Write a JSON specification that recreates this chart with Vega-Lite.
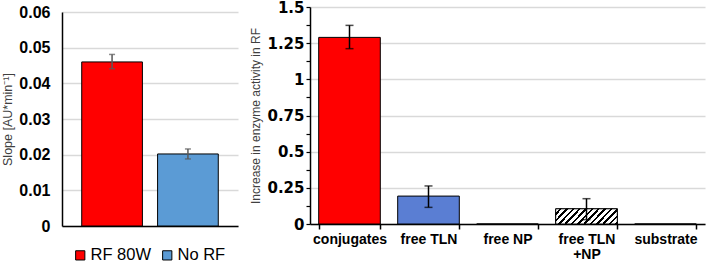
{
  "$schema": "https://vega.github.io/schema/vega-lite/v6.json",
  "padding": {"left": 1, "top": 0, "right": 2, "bottom": 0},
  "spacing": 11,
  "config": {
    "font": "Liberation Sans",
    "view": {"stroke": null},
    "axis": {"gridColor": "#D9D9D9", "gridWidth": 1.3, "domainColor": "black", "domainWidth": 1.5, "tickColor": "black", "labelColor": "black", "labelOverlap": false},
    "axisY": {"labelOverlap": false}
  },
  "hconcat": [
    {
      "vconcat": [
        {
          "width": 176,
          "height": 1,
          "data": {"values": []},
          "mark": {"type": "point", "opacity": 0}
        },
        {
          "width": 176,
          "height": 214,
          "data": {"values": [
            {"cond": "RF 80W", "slope": 0.046, "lo": 0.0441, "hi": 0.0481},
            {"cond": "No RF", "slope": 0.0202, "lo": 0.0188, "hi": 0.0216}
          ]},
          "encoding": {
            "x": {"field": "cond", "type": "nominal", "sort": null,
              "scale": {"paddingInner": 0.2, "paddingOuter": 0.26},
              "axis": {"labels": false, "ticks": false, "title": null, "grid": false}}
          },
          "layer": [
            {
              "mark": {"type": "bar", "stroke": "black", "strokeWidth": 1},
              "encoding": {
                "y": {"field": "slope", "type": "quantitative", "title": "Slope [AU*min⁻¹]",
                  "scale": {"domain": [0, 0.06], "nice": false},
                  "axis": {"values": [0, 0.01, 0.02, 0.03, 0.04, 0.05, 0.06], "labelExpr": "format(datum.value, '~g')",
                    "labelOverlap": false, "labelFontSize": 16, "labelFontWeight": "bold", "ticks": false, "labelPadding": 12,
                    "titleFontSize": 12.5, "titleFontWeight": "normal", "titleColor": "#404040", "titlePadding": 4}},
                "color": {"field": "cond", "type": "nominal", "sort": null,
                  "scale": {"domain": ["RF 80W", "No RF"], "range": ["#FF0000", "#5B9BD5"]},
                  "legend": {"orient": "none", "legendX": 10, "legendY": 240, "direction": "horizontal", "title": null,
                    "symbolType": "square", "symbolSize": 85, "symbolStrokeColor": "black", "symbolStrokeWidth": 1,
                    "symbolOpacity": 1, "labelFontSize": 16.5, "labelColor": "black", "labelOffset": 2, "columnPadding": 7}}
              }
            },
            {
              "mark": {"type": "rule", "color": "#595959", "strokeWidth": 1.5},
              "encoding": {"y": {"field": "lo", "type": "quantitative", "title": "Slope [AU*min⁻¹]",
                  "axis": {"values": [0, 0.01, 0.02, 0.03, 0.04, 0.05, 0.06], "labelExpr": "format(datum.value, '~g')",
                    "labelOverlap": false, "labelFontSize": 16, "labelFontWeight": "bold", "ticks": false, "labelPadding": 12,
                    "titleFontSize": 12.5, "titleFontWeight": "normal", "titleColor": "#404040", "titlePadding": 4}}, "y2": {"field": "hi"}}
            },
            {
              "mark": {"type": "tick", "color": "#595959", "size": 6, "thickness": 1.5, "orient": "horizontal"},
              "encoding": {"y": {"field": "lo", "type": "quantitative", "title": "Slope [AU*min⁻¹]",
                  "axis": {"values": [0, 0.01, 0.02, 0.03, 0.04, 0.05, 0.06], "labelExpr": "format(datum.value, '~g')",
                    "labelOverlap": false, "labelFontSize": 16, "labelFontWeight": "bold", "ticks": false, "labelPadding": 12,
                    "titleFontSize": 12.5, "titleFontWeight": "normal", "titleColor": "#404040", "titlePadding": 4}}}
            },
            {
              "mark": {"type": "tick", "color": "#595959", "size": 6, "thickness": 1.5, "orient": "horizontal"},
              "encoding": {"y": {"field": "hi", "type": "quantitative", "title": "Slope [AU*min⁻¹]",
                  "axis": {"values": [0, 0.01, 0.02, 0.03, 0.04, 0.05, 0.06], "labelExpr": "format(datum.value, '~g')",
                    "labelOverlap": false, "labelFontSize": 16, "labelFontWeight": "bold", "ticks": false, "labelPadding": 12,
                    "titleFontSize": 12.5, "titleFontWeight": "normal", "titleColor": "#404040", "titlePadding": 4}}}
            }
          ]
        }
      ],
      "spacing": 4,
      "bounds": "flush"
    },
    {
      "width": 395,
      "height": 217,
      "data": {"values": [
        {"cat": "conjugates", "val": 1.29, "lo": 1.212, "hi": 1.373},
        {"cat": "free TLN", "val": 0.193, "lo": 0.115, "hi": 0.263},
        {"cat": "free NP", "val": 0, "lo": null, "hi": null},
        {"cat": "free TLN +NP", "val": 0.105, "lo": 0.03, "hi": 0.175},
        {"cat": "substrate", "val": 0, "lo": null, "hi": null}
      ]},
      "encoding": {
        "x": {"field": "cat", "type": "nominal", "sort": null,
          "scale": {"paddingInner": 0.22, "paddingOuter": 0.11},
          "axis": {"title": null, "grid": false, "labelAngle": 0, "tickBand": "extent", "tickSize": 5, "tickWidth": 1.5,
            "labelFontSize": 14, "labelFontWeight": "bold", "labelPadding": 3, "labelLineHeight": 15.5,
            "labelExpr": "datum.value == 'free TLN +NP' ? ['free TLN', '+NP'] : datum.value"}}
      },
      "layer": [
        {
          "mark": {"type": "bar", "stroke": "black", "strokeWidth": 1},
          "encoding": {
            "y": {"field": "val", "type": "quantitative", "title": "Increase in enzyme activity in RF",
              "scale": {"domain": [0, 1.5], "nice": false},
              "axis": {"values": [0, 0.125, 0.25, 0.375, 0.5, 0.625, 0.75, 0.875, 1, 1.125, 1.25, 1.375, 1.5],
                "labelExpr": "(datum.value * 8) % 2 == 0 ? format(datum.value, '~g') : ''",
                "labelOverlap": false,
                "gridOpacity": {"condition": {"test": "(datum.value * 8) % 2 != 0", "value": 0}, "value": 1},
                "labelFont": "DejaVu Sans", "labelFontSize": 15, "labelFontWeight": "bold", "tickSize": 4, "tickWidth": 1.2, "labelPadding": 2,
                "titleFontSize": 12, "titleFontWeight": "normal", "titleColor": "#404040", "titlePadding": 4}},
            "fill": {"field": "cat", "type": "nominal", "sort": null,
              "scale": {"domain": ["conjugates", "free TLN", "free NP", "free TLN +NP", "substrate"],
                "range": ["#FF0000", "#5A7ED3", "white", "white", "white"]},
              "legend": null}
          }
        },
        {
          "transform": [{"filter": "datum.cat == 'free TLN +NP'"}],
          "mark": {"type": "bar", "stroke": "black", "strokeWidth": 1,
            "fill": {"gradient": "linear", "x1": 0, "y1": 0, "x2": 1.17, "y2": 0.275, "stops": [
              {"offset": 0, "color": "white"}, {"offset": 0.05, "color": "white"}, {"offset": 0.05, "color": "black"}, {"offset": 0.0833, "color": "black"},
              {"offset": 0.0833, "color": "white"}, {"offset": 0.1333, "color": "white"}, {"offset": 0.1333, "color": "black"}, {"offset": 0.1667, "color": "black"},
              {"offset": 0.1667, "color": "white"}, {"offset": 0.2167, "color": "white"}, {"offset": 0.2167, "color": "black"}, {"offset": 0.25, "color": "black"},
              {"offset": 0.25, "color": "white"}, {"offset": 0.3, "color": "white"}, {"offset": 0.3, "color": "black"}, {"offset": 0.3333, "color": "black"},
              {"offset": 0.3333, "color": "white"}, {"offset": 0.3833, "color": "white"}, {"offset": 0.3833, "color": "black"}, {"offset": 0.4167, "color": "black"},
              {"offset": 0.4167, "color": "white"}, {"offset": 0.4667, "color": "white"}, {"offset": 0.4667, "color": "black"}, {"offset": 0.5, "color": "black"},
              {"offset": 0.5, "color": "white"}, {"offset": 0.55, "color": "white"}, {"offset": 0.55, "color": "black"}, {"offset": 0.5833, "color": "black"},
              {"offset": 0.5833, "color": "white"}, {"offset": 0.6333, "color": "white"}, {"offset": 0.6333, "color": "black"}, {"offset": 0.6667, "color": "black"},
              {"offset": 0.6667, "color": "white"}, {"offset": 0.7167, "color": "white"}, {"offset": 0.7167, "color": "black"}, {"offset": 0.75, "color": "black"},
              {"offset": 0.75, "color": "white"}, {"offset": 0.8, "color": "white"}, {"offset": 0.8, "color": "black"}, {"offset": 0.8333, "color": "black"},
              {"offset": 0.8333, "color": "white"}, {"offset": 0.8833, "color": "white"}, {"offset": 0.8833, "color": "black"}, {"offset": 0.9167, "color": "black"},
              {"offset": 0.9167, "color": "white"}, {"offset": 0.9667, "color": "white"}, {"offset": 0.9667, "color": "black"}, {"offset": 1, "color": "black"}
            ]}},
          "encoding": {"y": {"field": "val", "type": "quantitative", "title": "Increase in enzyme activity in RF",
              "axis": {"values": [0, 0.125, 0.25, 0.375, 0.5, 0.625, 0.75, 0.875, 1, 1.125, 1.25, 1.375, 1.5],
                "labelExpr": "(datum.value * 8) % 2 == 0 ? format(datum.value, '~g') : ''",
                "labelOverlap": false,
                "gridOpacity": {"condition": {"test": "(datum.value * 8) % 2 != 0", "value": 0}, "value": 1},
                "labelFont": "DejaVu Sans", "labelFontSize": 15, "labelFontWeight": "bold", "tickSize": 4, "tickWidth": 1.2, "labelPadding": 2,
                "titleFontSize": 12, "titleFontWeight": "normal", "titleColor": "#404040", "titlePadding": 4}}}
        },
        {
          "mark": {"type": "rule", "color": "black", "strokeWidth": 1.5},
          "encoding": {"y": {"field": "lo", "type": "quantitative", "title": "Increase in enzyme activity in RF",
              "axis": {"values": [0, 0.125, 0.25, 0.375, 0.5, 0.625, 0.75, 0.875, 1, 1.125, 1.25, 1.375, 1.5],
                "labelExpr": "(datum.value * 8) % 2 == 0 ? format(datum.value, '~g') : ''",
                "labelOverlap": false,
                "gridOpacity": {"condition": {"test": "(datum.value * 8) % 2 != 0", "value": 0}, "value": 1},
                "labelFont": "DejaVu Sans", "labelFontSize": 15, "labelFontWeight": "bold", "tickSize": 4, "tickWidth": 1.2, "labelPadding": 2,
                "titleFontSize": 12, "titleFontWeight": "normal", "titleColor": "#404040", "titlePadding": 4}}, "y2": {"field": "hi"}}
        },
        {
          "mark": {"type": "tick", "color": "black", "size": 8, "thickness": 1.5, "orient": "horizontal"},
          "encoding": {"y": {"field": "lo", "type": "quantitative", "title": "Increase in enzyme activity in RF",
              "axis": {"values": [0, 0.125, 0.25, 0.375, 0.5, 0.625, 0.75, 0.875, 1, 1.125, 1.25, 1.375, 1.5],
                "labelExpr": "(datum.value * 8) % 2 == 0 ? format(datum.value, '~g') : ''",
                "labelOverlap": false,
                "gridOpacity": {"condition": {"test": "(datum.value * 8) % 2 != 0", "value": 0}, "value": 1},
                "labelFont": "DejaVu Sans", "labelFontSize": 15, "labelFontWeight": "bold", "tickSize": 4, "tickWidth": 1.2, "labelPadding": 2,
                "titleFontSize": 12, "titleFontWeight": "normal", "titleColor": "#404040", "titlePadding": 4}}}
        },
        {
          "mark": {"type": "tick", "color": "black", "size": 8, "thickness": 1.5, "orient": "horizontal"},
          "encoding": {"y": {"field": "hi", "type": "quantitative", "title": "Increase in enzyme activity in RF",
              "axis": {"values": [0, 0.125, 0.25, 0.375, 0.5, 0.625, 0.75, 0.875, 1, 1.125, 1.25, 1.375, 1.5],
                "labelExpr": "(datum.value * 8) % 2 == 0 ? format(datum.value, '~g') : ''",
                "labelOverlap": false,
                "gridOpacity": {"condition": {"test": "(datum.value * 8) % 2 != 0", "value": 0}, "value": 1},
                "labelFont": "DejaVu Sans", "labelFontSize": 15, "labelFontWeight": "bold", "tickSize": 4, "tickWidth": 1.2, "labelPadding": 2,
                "titleFontSize": 12, "titleFontWeight": "normal", "titleColor": "#404040", "titlePadding": 4}}}
        }
      ]
    }
  ]
}
